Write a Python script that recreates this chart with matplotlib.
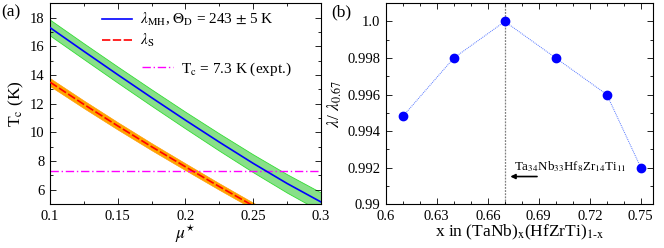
import numpy as np
import matplotlib
matplotlib.use('Agg')
import matplotlib.pyplot as plt
from matplotlib.ticker import MultipleLocator

plt.rcParams['font.family'] = ['Liberation Serif', 'DejaVu Serif']
plt.rcParams['mathtext.fontset'] = 'stix'
plt.rcParams['font.size'] = 10.5

# panel (a): Tc vs mu*
mu = [0.1, 0.125, 0.15, 0.175, 0.2, 0.225, 0.25, 0.275, 0.3]
tc_mh = [17.3, 15.65, 14.02, 12.42, 10.85, 9.32, 7.84, 6.44, 5.15]
mh_err = [0.55, 0.55, 0.56, 0.57, 0.58, 0.6, 0.62, 0.64, 0.66]
tc_s = [13.5, 11.95, 10.45, 9.0, 7.6, 6.22, 4.88, 3.6, 2.4]
s_err = [0.28, 0.27, 0.26, 0.25, 0.24, 0.23, 0.22, 0.21, 0.2]
tc_expt = 7.3

# panel (b): lambda ratio vs x
x_comp = [0.61, 0.64, 0.67, 0.70, 0.73, 0.75]
lam_ratio = [0.9948, 0.998, 1.0, 0.998, 0.996, 0.992]

fig = plt.figure(figsize=(6.64, 2.48), dpi=100)
ax1 = fig.add_axes([0.0753, 0.177, 0.408, 0.81])
ax2 = fig.add_axes([0.581, 0.177, 0.402, 0.81])

mu_a = np.array(mu)
ax1.fill_between(mu_a, np.array(tc_mh) - mh_err, np.array(tc_mh) + mh_err,
                 color='#88e088', edgecolor='#33dd33', lw=0.6, zorder=1)
ax1.fill_between(mu_a, np.array(tc_s) - s_err, np.array(tc_s) + s_err,
                 color='orange', edgecolor='#ff9900', lw=0.4, zorder=1)
l1, = ax1.plot(mu, tc_mh, color='blue', lw=1.2, zorder=3)
l2, = ax1.plot(mu, tc_s, color='red', lw=1.2, ls=(0, (5, 1.5)), zorder=3)
l3 = ax1.axhline(tc_expt, color='magenta', lw=1.0, ls=(0, (6, 2, 1, 2)), zorder=2)
ax1.set_xlim(0.1, 0.3)
ax1.set_ylim(5, 19)
ax1.xaxis.set_minor_locator(MultipleLocator(0.025))
ax1.yaxis.set_minor_locator(MultipleLocator(1))
ax1.set_xticks([0.1, 0.15, 0.2, 0.25, 0.3])
ax1.set_xticklabels(['0.1', '0.15', '0.2', '0.25', '0.3'])
ax1.set_yticks([6, 8, 10, 12, 14, 16, 18])
ax1.set_xlabel(r'$\mu^{\star}$', fontsize=12.5, labelpad=0)
ax1.set_ylabel(r'T$_{\rm c}$ (K)', fontsize=12.5, labelpad=3)
leg = ax1.legend([l1, l2],
                 [r'$\lambda_{\rm MH}$, $\Theta_{\rm D}$ = 243 $\pm$ 5 K',
                  r'$\lambda_{\rm S}$'],
                 loc='upper left', bbox_to_anchor=(0.14, 1.03), frameon=False,
                 handlelength=2.0, handletextpad=0.5, labelspacing=0.25,
                 fontsize=11)
ax1.add_artist(leg)
ax1.legend([l3], [r'T$_{\rm c}$ = 7.3 K (expt.)'],
           loc='upper left', bbox_to_anchor=(0.29, 0.785), frameon=False,
           handlelength=2.0, handletextpad=0.5, fontsize=11)
ax1.text(-0.18, 0.995, '(a)', transform=ax1.transAxes, fontsize=12.5, va='top')

ax2.axvline(0.67, color='gray', lw=0.9, ls=(0, (1.5, 1)), zorder=1)
ax2.plot(x_comp, lam_ratio, color='#5577ff', lw=0.7, ls=(0, (1, 1)),
         marker='o', ms=6, mfc='blue', mec='blue', zorder=3)
ax2.annotate('', xy=(0.6716, 0.99151), xytext=(0.6906, 0.99151),
             arrowprops=dict(arrowstyle='-|>', color='black', lw=1.2,
                             mutation_scale=7))
ax2.text(0.6755, 0.99208,
         r'Ta$_{\rm 34}$Nb$_{\rm 33}$Hf$_{\rm 8}$Zr$_{\rm 14}$Ti$_{\rm 11}$',
         fontsize=9.4, va='center', ha='left')
ax2.set_xlim(0.6, 0.757)
ax2.set_ylim(0.99, 1.001)
ax2.xaxis.set_minor_locator(MultipleLocator(0.01))
ax2.yaxis.set_minor_locator(MultipleLocator(0.001))
ax2.set_xticks([0.6, 0.63, 0.66, 0.69, 0.72, 0.75])
ax2.set_xticklabels(['0.6', '0.63', '0.66', '0.69', '0.72', '0.75'])
ax2.set_yticks([0.99, 0.992, 0.994, 0.996, 0.998, 1.0])
ax2.set_yticklabels(['0.99', '0.992', '0.994', '0.996', '0.998', '1.0'])
ax2.set_xlabel(r'x in (TaNb)$_{\rm x}$(HfZrTi)$_{\rm 1\text{-}x}$', fontsize=12.5, labelpad=0)
ax2.set_ylabel(r'$\lambda$/ $\lambda_{0.67}$', fontsize=12.5, labelpad=2)
ax2.text(-0.205, 0.995, '(b)', transform=ax2.transAxes, fontsize=12.5, va='top')

for ax in (ax1, ax2):
    ax.tick_params(which='both', direction='in', top=True, right=True)
    ax.tick_params(which='major', length=4, width=0.6, pad=4)
    ax.tick_params(which='minor', length=2, width=0.6)
    for sp in ax.spines.values():
        sp.set_linewidth(0.8)

fig.savefig('out.png', dpi=100)
